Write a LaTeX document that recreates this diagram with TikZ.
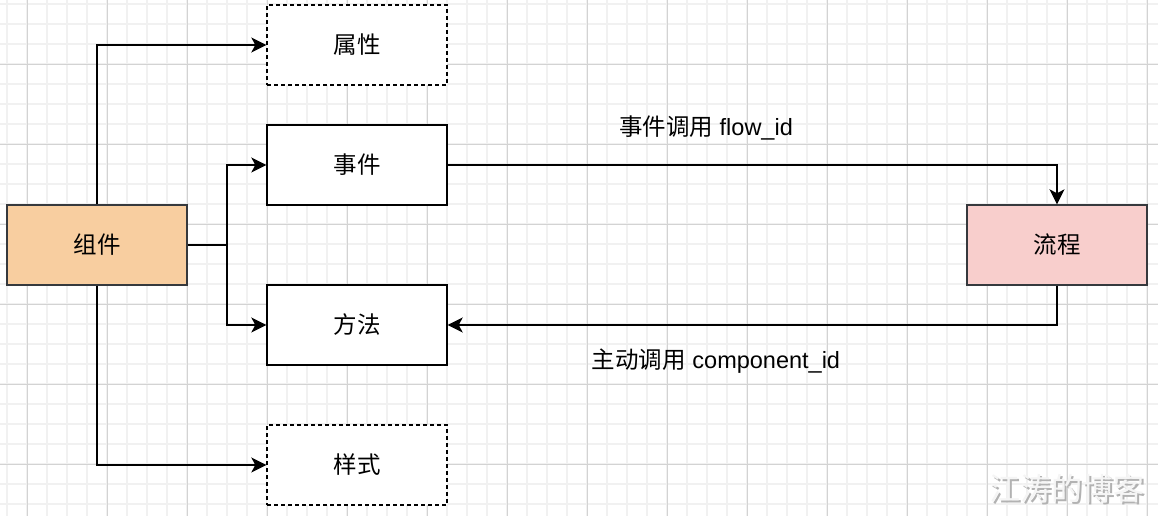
\documentclass[tikz,border=0pt]{standalone}
\usepackage{fontspec}
\setmainfont{Liberation Sans}
\newfontfamily\cjk{Noto Sans CJK SC}
\usetikzlibrary{arrows.meta}
\definecolor{minorgrid}{HTML}{F1F1F1}
\definecolor{majorgrid}{HTML}{D3D3D3}
\definecolor{orangefill}{HTML}{F8CEA0}
\definecolor{pinkfill}{HTML}{F8CECC}
\definecolor{boxline}{HTML}{36393D}
\tikzset{
  box/.style={draw=boxline, line width=1.4pt, minimum width=180pt, minimum height=80pt, inner sep=0pt, font=\cjk\fontsize{23.5}{28}\selectfont, fill=white},
  dbox/.style={box, draw=black, dash pattern=on 4pt off 3pt},
  arr/.style={line width=1.5pt, -{Stealth[length=15pt,width=15pt,inset=4pt]}},
  lbl/.style={font=\fontsize{23.5}{28}\selectfont, inner sep=0pt}
}
\begin{document}
\begin{tikzpicture}[x=1pt,y=-1pt]
\useasboundingbox (0,0) rectangle (1158,516);
\fill[white] (0,0) rectangle (1158,516);
% minor grid
\foreach \x in {7,27,...,1158} \draw[minorgrid, line width=1.6pt] (\x,0) -- (\x,516);
\foreach \y in {4,24,...,516} \draw[minorgrid, line width=1.6pt] (0,\y) -- (1158,\y);
% major grid
\foreach \x in {27,107,...,1158} \draw[majorgrid, line width=0.9pt] (\x,0) -- (\x,516);
\foreach \y in {64,144,...,516} \draw[majorgrid, line width=0.9pt] (0,\y) -- (1158,\y);

% nodes
\node[box, fill=orangefill] (zj) at (97,245) {组件};
\node[dbox] (sx) at (357,45) {属性};
\node[box, draw=black] (sj) at (357,165) {事件};
\node[box, draw=black] (ff) at (357,325) {方法};
\node[dbox] (ys) at (357,465) {样式};
\node[box, fill=pinkfill] (lc) at (1057,245) {流程};

\coordinate (j) at (227,245);

% connectors
\draw[arr] (zj.north) |- (sx.west);
\draw[line width=1.5pt] (zj.east) -- (j);
\draw[arr] (j) |- (sj.west);
\draw[arr] (j) |- (ff.west);
\draw[arr] (zj.south) |- (ys.west);
\draw[arr] (sj.east) -| (lc.north);
\draw[arr] (lc.south) |- (ff.east);

% labels
\node[lbl] (l1) at (706,128) {{\cjk 事件调用} flow\_id};
\node[lbl] (l2) at (716,361) {{\cjk 主动调用} component\_id};

% watermark
\node[font=\cjk\fontsize{31}{36}\selectfont, text=gray!60, inner sep=0pt] (wm0) at (1068.6,490.6) {江涛的博客};
\node[font=\cjk\fontsize{31}{36}\selectfont, text=white!92!gray, inner sep=0pt] (wm) at (1067,489) {江涛的博客};
\end{tikzpicture}
\end{document}
